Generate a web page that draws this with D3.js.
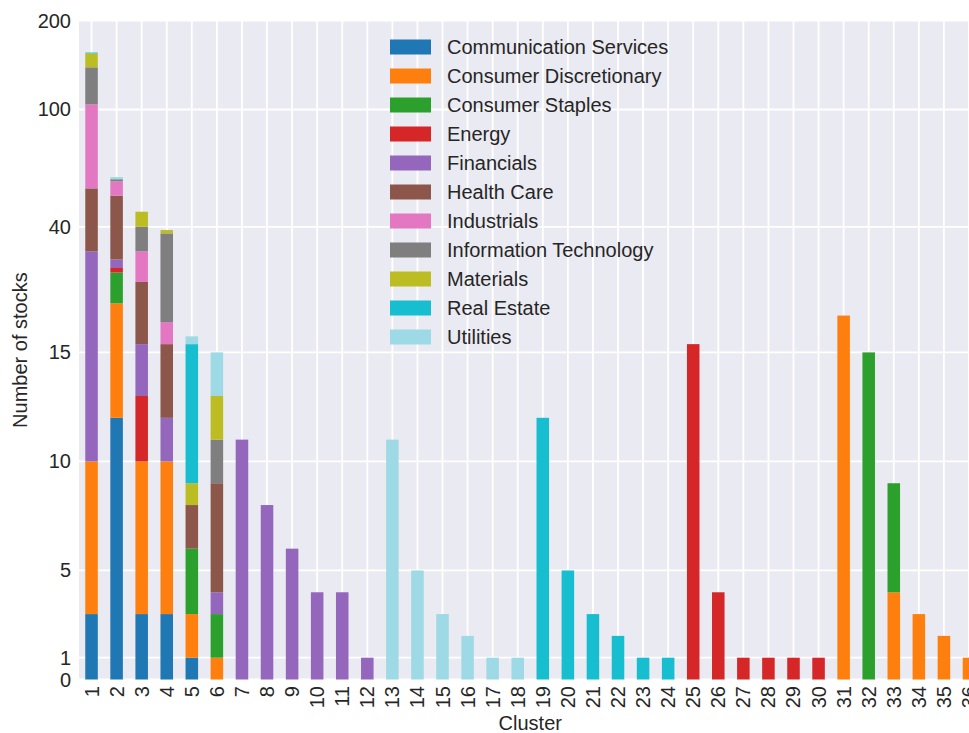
<!DOCTYPE html>
<html>
<head>
<meta charset="utf-8">
<script src="https://cdn.jsdelivr.net/npm/d3@7"></script>
<style>
  html, body { margin: 0; padding: 0; background: #ffffff; }
  svg { display: block; font-family: "Liberation Sans", Arial, sans-serif; }
</style>
</head>
<body>
<svg id="chart" width="969" height="733"></svg>
<script>
// ---- data ----
const clusters = d3.range(1, 37).map(String);
const sectors = ["Communication Services", "Consumer Discretionary", "Consumer Staples", "Energy",
  "Financials", "Health Care", "Industrials", "Information Technology", "Materials", "Real Estate", "Utilities"];
const colors = ["#1f77b4", "#ff7f0e", "#2ca02c", "#d62728", "#9467bd", "#8c564b",
  "#e377c2", "#7f7f7f", "#bcbd22", "#17becf", "#9edae5"];

//                              1   2   3   4  5  6  7  8  9 10 11 12 13 14 15 16 17 18 19 20 21 22 23 24 25 26 27 28 29 30 31 32 33 34 35 36
const communicationServices =  [3, 12,  3,  3, 1, 0, 0, 0, 0, 0, 0, 0, 0, 0, 0, 0, 0, 0, 0, 0, 0, 0, 0, 0, 0, 0, 0, 0, 0, 0, 0, 0, 0, 0, 0, 0];
const consumerDiscretionary =  [7, 10,  7,  7, 2, 1, 0, 0, 0, 0, 0, 0, 0, 0, 0, 0, 0, 0, 0, 0, 0, 0, 0, 0, 0, 0, 0, 0, 0, 0,20, 0, 4, 3, 2, 1];
const consumerStaples =        [0,  6,  0,  0, 3, 2, 0, 0, 0, 0, 0, 0, 0, 0, 0, 0, 0, 0, 0, 0, 0, 0, 0, 0, 0, 0, 0, 0, 0, 0, 0,15, 5, 0, 0, 0];
const energy =                 [0,  1,  3,  0, 0, 0, 0, 0, 0, 0, 0, 0, 0, 0, 0, 0, 0, 0, 0, 0, 0, 0, 0, 0,16, 4, 1, 1, 1, 1, 0, 0, 0, 0, 0, 0];
const financials =             [23, 2,  3,  2, 0, 1,11, 8, 6, 4, 4, 1, 0, 0, 0, 0, 0, 0, 0, 0, 0, 0, 0, 0, 0, 0, 0, 0, 0, 0, 0, 0, 0, 0, 0, 0];
const healthCare =             [21,20, 10,  4, 2, 5, 0, 0, 0, 0, 0, 0, 0, 0, 0, 0, 0, 0, 0, 0, 0, 0, 0, 0, 0, 0, 0, 0, 0, 0, 0, 0, 0, 0, 0, 0];
const industrials =            [50, 6,  7,  3, 0, 0, 0, 0, 0, 0, 0, 0, 0, 0, 0, 0, 0, 0, 0, 0, 0, 0, 0, 0, 0, 0, 0, 0, 0, 0, 0, 0, 0, 0, 0, 0];
const informationTechnology =  [35, 1,  7, 19, 0, 2, 0, 0, 0, 0, 0, 0, 0, 0, 0, 0, 0, 0, 0, 0, 0, 0, 0, 0, 0, 0, 0, 0, 0, 0, 0, 0, 0, 0, 0, 0];
const materials =              [16, 0,  5,  1, 1, 2, 0, 0, 0, 0, 0, 0, 0, 0, 0, 0, 0, 0, 0, 0, 0, 0, 0, 0, 0, 0, 0, 0, 0, 0, 0, 0, 0, 0, 0, 0];
const realEstate =             [1,  0,  0,  0, 7, 0, 0, 0, 0, 0, 0, 0, 0, 0, 0, 0, 0, 0,12, 5, 3, 2, 1, 1, 0, 0, 0, 0, 0, 0, 0, 0, 0, 0, 0, 0];
const utilities =              [0,  1,  0,  0, 1, 2, 0, 0, 0, 0, 0, 0,11, 5, 3, 2, 1, 1, 0, 0, 0, 0, 0, 0, 0, 0, 0, 0, 0, 0, 0, 0, 0, 0, 0, 0];

const yTicks = [0, 1, 5, 10, 15, 40, 100, 200];
const xLabel = "Cluster";
const yLabel = "Number of stocks";

// ---- build table ----
const seriesValues = [communicationServices, consumerDiscretionary, consumerStaples, energy, financials,
  healthCare, industrials, informationTechnology, materials, realEstate, utilities];
const table = clusters.map((c, i) => {
  const row = { cluster: c };
  sectors.forEach((s, j) => { row[s] = seriesValues[j][i]; });
  return row;
});

// ---- layout ----
const svg = d3.select("#chart");
const plotLeft = 79, plotBottom = 679.5;
const step = 25.07;
const plotRight = plotLeft + step * clusters.length;

// y: linear up to 15, logarithmic above
const linThresh = 15, logK = 5.872;
const tf = v => v <= linThresh ? v : linThresh + logK * Math.log(v / linThresh);
const yLin = d3.scaleLinear().domain([0, linThresh]).range([plotBottom, 352.4]);
const y = v => yLin(tf(v));
const plotTop = y(200);

const x = d3.scaleBand().domain(clusters).range([plotLeft, plotRight])
  .paddingInner(0.5).paddingOuter(0.25);

const textColor = "#262626";
const fs = 20;

// background
svg.append("rect").attr("x", plotLeft).attr("y", plotTop)
  .attr("width", plotRight - plotLeft).attr("height", plotBottom - plotTop)
  .attr("fill", "#eaeaf2");

// grid
const grid = svg.append("g").attr("stroke", "#ffffff").attr("stroke-width", 1.8);
grid.selectAll("line.h").data(yTicks).join("line")
  .attr("x1", plotLeft).attr("x2", plotRight)
  .attr("y1", d => y(d)).attr("y2", d => y(d));
grid.selectAll("line.v").data(clusters).join("line")
  .attr("x1", d => x(d) + x.bandwidth() / 2).attr("x2", d => x(d) + x.bandwidth() / 2)
  .attr("y1", plotTop).attr("y2", plotBottom);

// stacked bars
const stack = d3.stack().keys(sectors)(table);
const layers = svg.append("g").selectAll("g").data(stack).join("g")
  .attr("fill", (d, i) => colors[i]);
layers.selectAll("rect").data(d => d.filter(p => p[1] - p[0] > 0)).join("rect")
  .attr("x", d => x(d.data.cluster))
  .attr("width", x.bandwidth())
  .attr("y", d => y(d[1]))
  .attr("height", d => y(d[0]) - y(d[1]));

// y tick labels
svg.append("g").selectAll("text").data(yTicks).join("text")
  .attr("x", 71).attr("y", d => y(d))
  .attr("text-anchor", "end").attr("dominant-baseline", "central")
  .attr("font-size", fs).attr("fill", textColor)
  .text(d => d);

// x tick labels
svg.append("g").selectAll("text").data(clusters).join("text")
  .attr("transform", d => `translate(${x(d) + x.bandwidth() / 2},686) rotate(-90)`)
  .attr("text-anchor", "end").attr("dominant-baseline", "central")
  .attr("font-size", fs).attr("fill", textColor)
  .text(d => d);

// axis titles
svg.append("text").attr("x", (plotLeft + plotRight) / 2).attr("y", 730)
  .attr("text-anchor", "middle").attr("font-size", fs).attr("fill", textColor)
  .text(xLabel);
svg.append("text").attr("transform", `translate(27,${(plotTop + plotBottom) / 2}) rotate(-90)`)
  .attr("text-anchor", "middle").attr("font-size", fs).attr("fill", textColor)
  .text(yLabel);

// legend
const legend = svg.append("g").attr("transform", "translate(390,47)");
const items = legend.selectAll("g").data(sectors).join("g")
  .attr("transform", (d, i) => `translate(0,${i * 29})`);
items.append("rect").attr("x", 0).attr("y", -7.5).attr("width", 41).attr("height", 15)
  .attr("fill", (d, i) => colors[i]);
items.append("text").attr("x", 57).attr("y", 0).attr("dominant-baseline", "central")
  .attr("font-size", fs).attr("fill", textColor).text(d => d);
</script>
</body>
</html>
